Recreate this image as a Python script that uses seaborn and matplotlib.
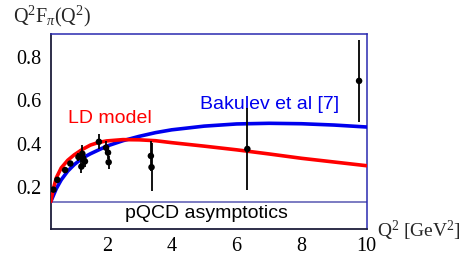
import numpy as np
import pandas as pd
import matplotlib
matplotlib.use('Agg')
import matplotlib.pyplot as plt
import seaborn as sns
from matplotlib.ticker import MultipleLocator

###################################################################################
# Values

# LD model curve (red)
ld_q2 = [0.28, 0.35, 0.45, 0.6, 0.8, 1.0, 1.25, 1.5, 1.75, 2.0, 2.5, 3.0, 3.5,
         4.0, 5.0, 6.0, 7.0, 8.0, 9.0, 10.0]
ld_f = [0.135, 0.19, 0.245, 0.29, 0.325, 0.35, 0.375, 0.395, 0.407, 0.414, 0.42,
        0.419, 0.415, 0.406, 0.39, 0.373, 0.354, 0.334, 0.317, 0.30]

# Bakulev et al [7] curve (blue)
bk_q2 = [0.28, 0.35, 0.45, 0.6, 0.8, 1.0, 1.25, 1.5, 2.0, 2.5, 3.0, 3.5, 4.0,
         5.0, 6.0, 7.0, 8.0, 9.0, 10.0]
bk_f = [0.135, 0.16, 0.195, 0.235, 0.275, 0.305, 0.335, 0.355, 0.39, 0.415,
        0.435, 0.452, 0.465, 0.482, 0.492, 0.495, 0.493, 0.487, 0.478]

# pQCD asymptotic value
pqcd = 0.135

# experimental points
exp_q2 = [0.36, 0.48, 0.72, 0.88, 1.13, 1.25, 1.22, 1.33, 1.28, 1.76, 1.98, 2.04,
          2.06, 3.36, 3.38, 6.33, 9.77]
exp_f = [0.19, 0.235, 0.28, 0.31, 0.34, 0.355, 0.296, 0.32, 0.33, 0.41, 0.383,
         0.36, 0.316, 0.345, 0.293, 0.377, 0.69]
exp_err = [0.01, 0.01, 0.01, 0.01, 0.02, 0.04, 0.03, 0.025, 0.03, 0.035, 0.03,
           0.03, 0.03, 0.07, 0.11, 0.19, 0.19]

x_ticks = [2, 4, 6, 8, 10]
y_ticks = [0.2, 0.4, 0.6, 0.8]

###################################################################################
# Plot

sns.set_style('white')
plt.rcParams['font.family'] = ['Liberation Sans', 'DejaVu Sans']
plt.rcParams['mathtext.fontset'] = 'custom'
plt.rcParams['mathtext.rm'] = 'Liberation Serif'
plt.rcParams['mathtext.it'] = 'Liberation Serif:italic'

fig = plt.figure(figsize=(4.64, 2.57), dpi=100)
ax = fig.add_axes([0.110, 0.109, 0.680, 0.759])

ld = pd.DataFrame({'q2': ld_q2, 'f': ld_f})
bk = pd.DataFrame({'q2': bk_q2, 'f': bk_f})
exp = pd.DataFrame({'q2': exp_q2, 'f': exp_f, 'err': exp_err})

ax.axhline(pqcd, color='#7b7bc2', lw=1.4, zorder=1)
sns.lineplot(data=bk, x='q2', y='f', color='#0000ee', lw=2.6, ax=ax, zorder=3)
sns.lineplot(data=ld, x='q2', y='f', color='#ff0000', lw=2.6, ax=ax, zorder=4)
ax.errorbar(exp['q2'], exp['f'], yerr=exp['err'], fmt='none', ecolor='black',
            elinewidth=1.3, capsize=0, zorder=5)
sns.scatterplot(data=exp, x='q2', y='f', color='black', s=22, edgecolor='none',
                ax=ax, zorder=6)

ax.set_xlim(0.286, 10.0)
ax.set_ylim(0.009, 0.906)
ax.set_xlabel('')
ax.set_ylabel('')
ax.set_xticks(x_ticks)
ax.set_yticks(y_ticks)
ax.set_xticklabels([str(t) for t in x_ticks])
ax.set_yticklabels([str(t) for t in y_ticks])
ax.xaxis.set_minor_locator(MultipleLocator(0.4))
ax.yaxis.set_minor_locator(MultipleLocator(0.04))
ax.tick_params(which='both', direction='in', top=False, right=False,
               colors='#222233', labelcolor='black')
ax.tick_params(which='major', length=5, width=0.8, labelsize=14.5)
ax.tick_params(which='minor', length=2.5, width=0.6)
ax.tick_params(axis='y', pad=7)
ax.tick_params(axis='x', pad=6)
for lab in ax.get_xticklabels() + ax.get_yticklabels():
    lab.set_fontfamily('Liberation Serif')

for side in ['left', 'bottom']:
    ax.spines[side].set_color('#1e1e3c')
    ax.spines[side].set_linewidth(1.3)
for side in ['top', 'right']:
    ax.spines[side].set_color('#2a2ab0')
    ax.spines[side].set_linewidth(1.1)

ax.text(0.81, 0.515, 'LD model', color='#ff0000', fontsize=14, va='center', ha='left')
ax.text(4.88, 0.58, 'Bakulev et al [7]', color='#0000ee', fontsize=14, va='center', ha='left')
ax.text(2.55, 0.078, 'pQCD asymptotics', color='black', fontsize=14, va='center', ha='left')

fig.text(13 / 464, 1 - 16 / 257, r'$\mathrm{Q^2F}_{\pi}\mathrm{(Q^2)}$', fontsize=14.5,
         va='center', ha='left')
fig.text(377 / 464, 1 - 231 / 257, r'$\mathrm{Q^2\ [GeV^2]}$', fontsize=14,
         va='center', ha='left')

fig.savefig('out.png', dpi=100)
